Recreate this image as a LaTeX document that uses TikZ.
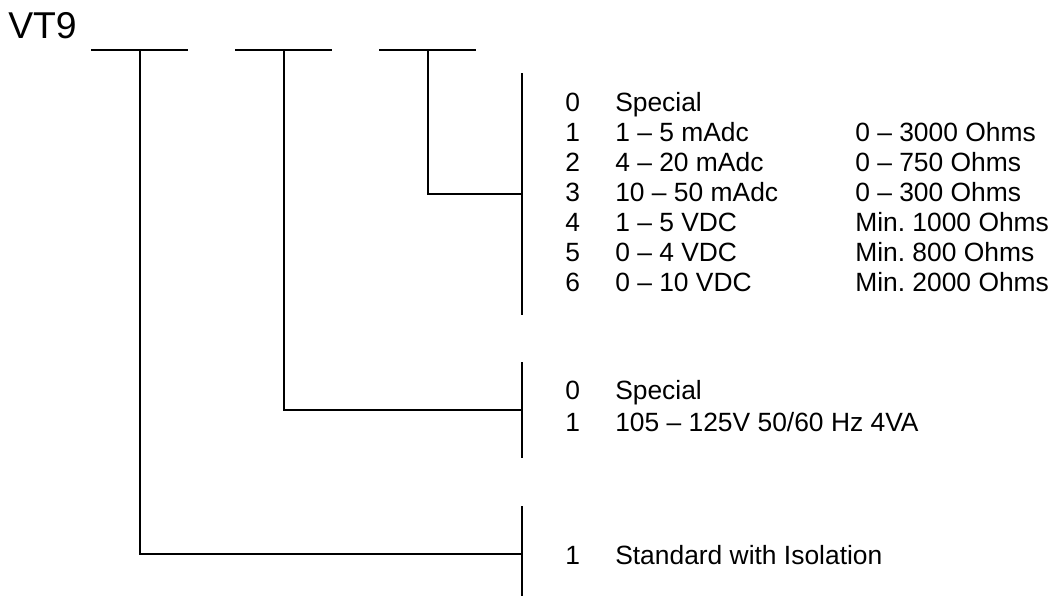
\documentclass[tikz,border=0pt]{standalone}
\usepackage{fontspec}
\setmainfont{Liberation Sans}
\usepackage{tikz}
\usetikzlibrary{positioning}
\frenchspacing
\tikzset{
    % line style of the code tree
    codeline/.style={
        line width=1pt,
        black
    },
    % text of one option row
    optext/.style={
        anchor=base west,
        inner sep=0pt,
        font=\fontsize{19.8pt}{22pt}\selectfont
    }
}

\begin{document}
\begin{tikzpicture}[x=0.75pt,y=-0.75pt]
   \useasboundingbox (0,0) rectangle (1057,596);
   \path
    (91,50) coordinate (a1) (188,50) coordinate (a2) (140,50) coordinate (am)
    (235,50) coordinate (b1) (332,50) coordinate (b2) (284,50) coordinate (bm)
    (379,50) coordinate (c1) (476,50) coordinate (c2) (428,50) coordinate (cm)
    (522,73) coordinate (ct) (522,315) coordinate (cb) (522,194) coordinate (cj)
    (522,362) coordinate (bt) (522,458) coordinate (bb) (522,410) coordinate (bj)
    (522,506) coordinate (at) (522,596) coordinate (ab) (522,554) coordinate (aj);

    % model name
    \node[anchor=base west,inner sep=0pt,font=\fontsize{28pt}{30pt}\selectfont] (vt) at (8,38) {VT9};

    % blanks of the code
    \draw[codeline] (a1) -- (a2);
    \draw[codeline] (b1) -- (b2);
    \draw[codeline] (c1) -- (c2);

    % branches down to the brackets
    \draw[codeline] (am) |- (aj);
    \draw[codeline] (bm) |- (bj);
    \draw[codeline] (cm) |- (cj);
    \draw[codeline] (ct) -- (cb);
    \draw[codeline] (bt) -- (bb);
    \draw[codeline] (at) -- (ab);

    % output options
    \node[optext] (c0) at (565,111.5) {0};
    \node[optext] (d0) at (615,111.5) {Special};
    \node[optext] (c1n) at (565,141.5) {1};
    \node[optext] (d1) at (615,141.5) {1 -- 5 mAdc};
    \node[optext] (e1) at (855,141.5) {0 -- 3000 Ohms};
    \node[optext] (c2n) at (565,171.5) {2};
    \node[optext] (d2) at (615,171.5) {4 -- 20 mAdc};
    \node[optext] (e2) at (855,171.5) {0 -- 750 Ohms};
    \node[optext] (c3n) at (565,201.5) {3};
    \node[optext] (d3) at (615,201.5) {10 -- 50 mAdc};
    \node[optext] (e3) at (855,201.5) {0 -- 300 Ohms};
    \node[optext] (c4n) at (565,231.5) {4};
    \node[optext] (d4) at (615,231.5) {1 -- 5 VDC};
    \node[optext] (e4) at (855,231.5) {Min. 1000 Ohms};
    \node[optext] (c5n) at (565,261.5) {5};
    \node[optext] (d5) at (615,261.5) {0 -- 4 VDC};
    \node[optext] (e5) at (855,261.5) {Min. 800 Ohms};
    \node[optext] (c6n) at (565,291.5) {6};
    \node[optext] (d6) at (615,291.5) {0 -- 10 VDC};
    \node[optext] (e6) at (855,291.5) {Min. 2000 Ohms};

    % power options
    \node[optext] (p0) at (565,399.5) {0};
    \node[optext] (q0) at (615,399.5) {Special};
    \node[optext] (p1) at (565,431.5) {1};
    \node[optext] (q1) at (615,431.5) {105 -- 125V 50/60 Hz 4VA};

    % type
    \node[optext] (s1) at (565,564.5) {1};
    \node[optext] (t1) at (615,564.5) {Standard with Isolation};
\end{tikzpicture}
\end{document}
